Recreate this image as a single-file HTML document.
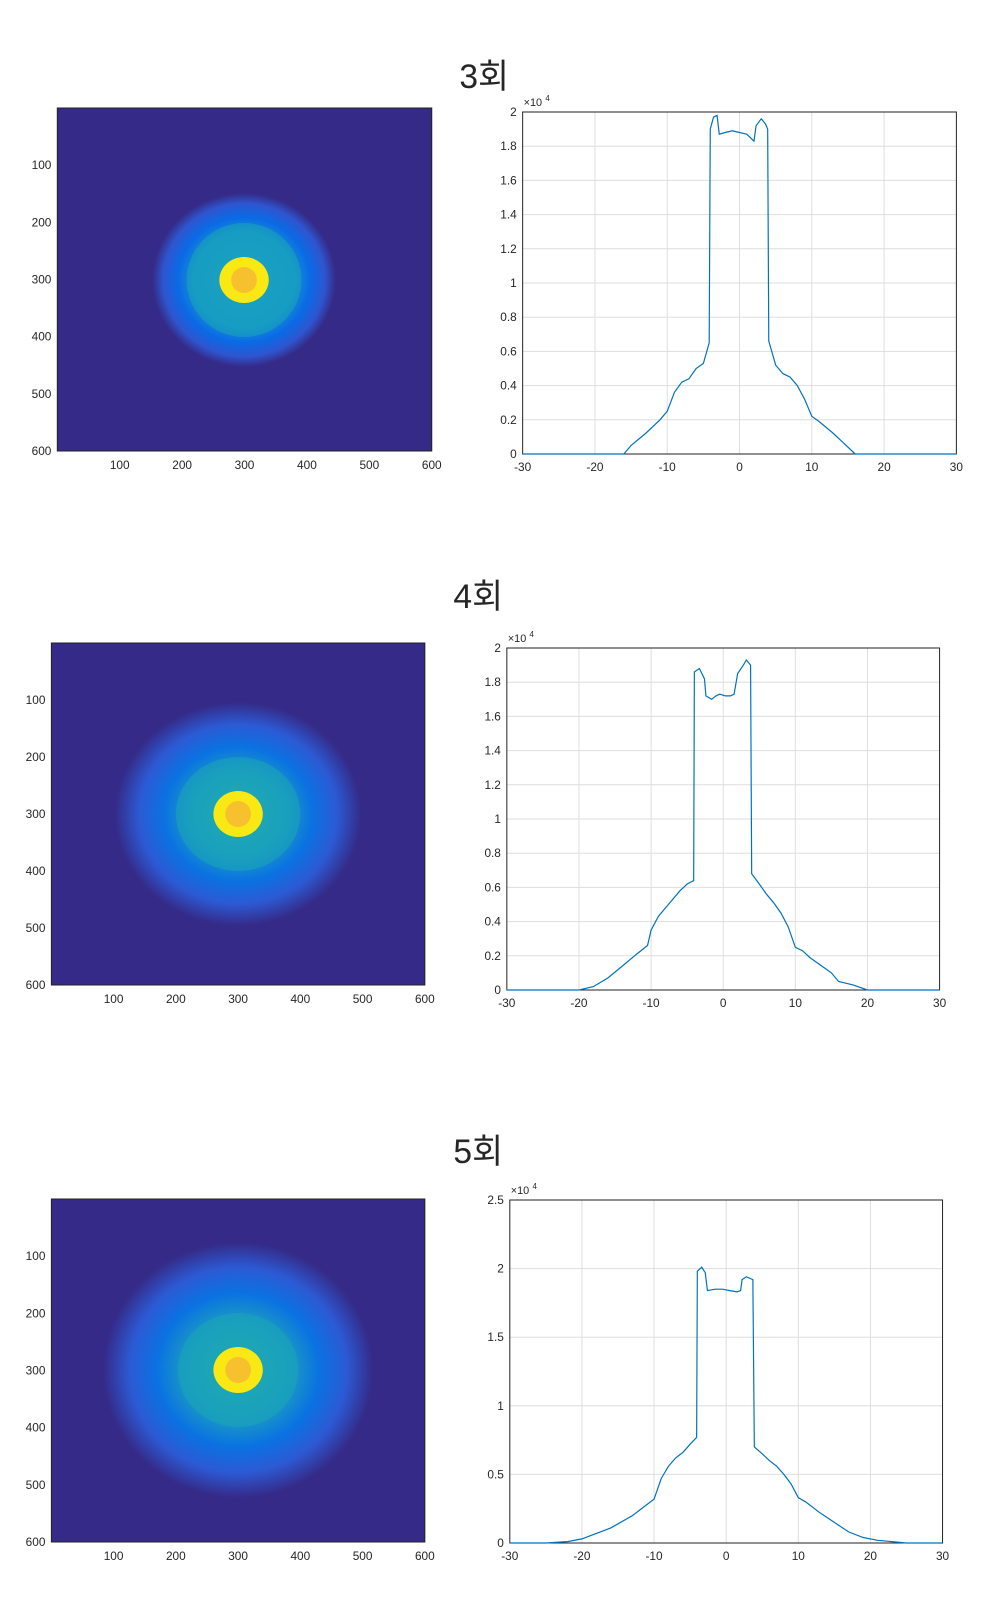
<!DOCTYPE html>
<html><head><meta charset="utf-8"><style>
html,body{margin:0;padding:0;background:#fff;}
svg{display:block;}
text{font-family:"Liberation Sans","Noto Sans CJK KR",sans-serif;fill:#262626;}
</style></head><body>
<svg id="s" width="1000" height="1600" viewBox="0 0 1000 1600" xmlns="http://www.w3.org/2000/svg">
<defs>
<radialGradient id="g1" cx="50%" cy="50%" r="50%">
<stop offset="0" stop-color="#1fa0c8"/><stop offset="0.55" stop-color="#1590d0"/><stop offset="0.72" stop-color="#0a6ae6"/><stop offset="0.88" stop-color="#2f55cf"/><stop offset="1" stop-color="#352a87"/>
</radialGradient>
<radialGradient id="g2" cx="50%" cy="50%" r="50%">
<stop offset="0" stop-color="#28b0a8"/><stop offset="0.4" stop-color="#1a98c4"/><stop offset="0.6" stop-color="#0a72e2"/><stop offset="0.8" stop-color="#2c5ad4"/><stop offset="1" stop-color="#352a87"/>
</radialGradient>
</defs>
<g transform="scale(0.988,1)">
<text x="490" y="88" font-size="34" text-anchor="middle">3회</text>
<text x="484" y="608" font-size="34" text-anchor="middle">4회</text>
<text x="484" y="1163" font-size="34" text-anchor="middle">5회</text>
<g id="content"></g>
</g>
</svg>
<script>
var NS="http://www.w3.org/2000/svg",C=document.getElementById("content");
function el(t,a,txt){var e=document.createElementNS(NS,t);for(var k in a)e.setAttribute(k,a[k]);if(txt!==undefined)e.textContent=txt;C.appendChild(e);return e;}
function heat(x0,y0,x1,y1,cx,cy,orx,ory,crx,cry,grad){
 el("rect",{x:x0,y:y0,width:x1-x0,height:y1-y0,fill:"#352a87"});
 el("ellipse",{cx:cx,cy:cy,rx:orx,ry:ory,fill:"url(#"+grad+")"});
 el("ellipse",{cx:cx,cy:cy,rx:crx,ry:cry,fill:"#1aa6b8",opacity:0.55});
 el("ellipse",{cx:cx,cy:cy,rx:25,ry:23,fill:"#f9e814"});
 el("ellipse",{cx:cx,cy:cy,rx:13,ry:13,fill:"#f7c02f"});
 el("rect",{x:x0,y:y0,width:x1-x0,height:y1-y0,fill:"none",stroke:"#222","stroke-width":1});
 var w=(x1-x0)/600,h=(y1-y0)/600;
 for(var i=1;i<=6;i++){
  el("text",{x:x0+i*100*w,y:y1+18,"font-size":12,"text-anchor":"middle"},String(i*100));
  el("text",{x:x0-6,y:y0+i*100*h+4,"font-size":12,"text-anchor":"end"},String(i*100));
 }
}
function plot(x0,y0,x1,y1,ymax,ystep,dec,pts){
 el("rect",{x:x0,y:y0,width:x1-x0,height:y1-y0,fill:"#fff"});
 var n=Math.round(ymax/ystep);
 for(var i=0;i<=6;i++){var x=x0+i*(x1-x0)/6;
  if(i>0&&i<6)el("line",{x1:x,y1:y0,x2:x,y2:y1,stroke:"#dedede"});
  el("text",{x:x,y:y1+17,"font-size":12,"text-anchor":"middle"},String(-30+i*10));}
 for(var j=0;j<=n;j++){var y=y1-j*(y1-y0)/n;
  if(j>0&&j<n)el("line",{x1:x0,y1:y,x2:x1,y2:y,stroke:"#dedede"});
  var v=j*ystep;el("text",{x:x0-6,y:y+4,"font-size":12,"text-anchor":"end"},(Math.round(v*10)/10).toString());}
 el("rect",{x:x0,y:y0,width:x1-x0,height:y1-y0,fill:"none",stroke:"#222","stroke-width":1});
 el("text",{x:x0+1,y:y0-6,"font-size":11},"×10");
 el("text",{x:x0+23,y:y0-11,"font-size":8},"4");
 var d="";
 for(var k=0;k<pts.length;k+=2){var px=x0+(pts[k]+30)/60*(x1-x0),py=y1-pts[k+1]/ymax*(y1-y0);d+=(k?"L":"M")+px.toFixed(1)+" "+py.toFixed(1);}
 el("path",{d:d,fill:"none",stroke:"#0072bd","stroke-width":1.2});
}
heat(58,108,437,451,247,280,93,87,58,57,"g1");
plot(529,112,968,454,2,0.2,1,[-30,0,-16,0,-15,0.05,-13,0.12,-11,0.2,-10,0.25,-9,0.36,-8,0.42,-7,0.44,-6,0.5,-5,0.53,-4.2,0.65,-4.05,1.9,-3.6,1.97,-3.1,1.98,-2.8,1.87,-2,1.88,-1,1.89,0,1.88,1,1.87,2,1.83,2.3,1.92,3,1.96,3.6,1.93,3.9,1.9,4.05,0.66,5,0.52,6,0.47,7,0.45,8,0.4,9,0.32,10,0.22,11,0.19,13,0.12,14,0.08,16,0,30,0]);
heat(52,643,430,985,241,814,125,112,63,57,"g2");
plot(513,648,951,990,2,0.2,1,[-30,0,-20,0,-18,0.02,-16,0.07,-14,0.14,-12,0.21,-10.5,0.26,-10,0.35,-9,0.43,-8,0.48,-7,0.53,-6,0.58,-5,0.62,-4.1,0.64,-4.0,1.86,-3.3,1.88,-2.6,1.82,-2.4,1.72,-1.6,1.7,-1,1.72,-0.5,1.73,0.3,1.72,1,1.72,1.5,1.73,2,1.85,2.8,1.9,3.2,1.93,3.8,1.9,3.95,0.68,5,0.62,6,0.56,7,0.51,8,0.45,9,0.37,10,0.25,11,0.23,12,0.19,14,0.13,15,0.1,16,0.05,18,0.03,20,0,30,0]);
heat(52,1199,430,1542,241,1370,137,128,61,57,"g2");
plot(516,1200,954,1543,2.5,0.5,1,[-30,0,-25,0,-22,0.01,-20,0.03,-18,0.07,-16,0.11,-15,0.14,-13,0.2,-11,0.28,-10,0.32,-9,0.47,-8,0.56,-7,0.62,-6,0.66,-5,0.72,-4.1,0.77,-4.0,1.98,-3.4,2.01,-2.9,1.97,-2.6,1.84,-1.5,1.85,-0.5,1.85,0.5,1.84,1.5,1.83,2,1.84,2.2,1.92,2.8,1.94,3.7,1.92,3.9,0.7,5,0.65,6,0.6,7,0.56,8,0.5,9,0.43,10,0.33,11,0.3,13,0.22,15,0.15,17,0.08,19,0.04,21,0.02,25,0,30,0]);
</script>
</body></html>
